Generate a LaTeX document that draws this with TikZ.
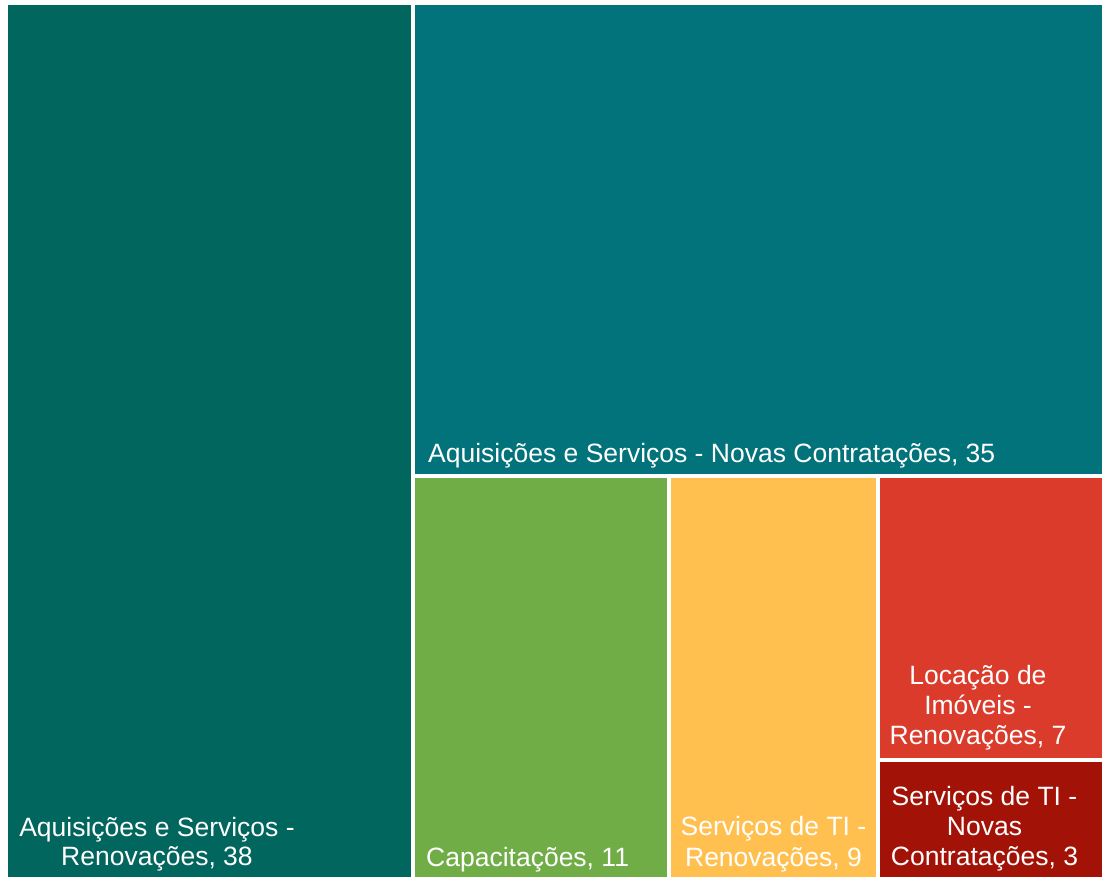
\documentclass[tikz,border=0pt]{standalone}
\usepackage{fontspec}
\setmainfont{Liberation Sans}
\definecolor{tealA}{RGB}{0,102,94}
\definecolor{tealB}{RGB}{2,115,122}
\definecolor{greenC}{RGB}{112,173,71}
\definecolor{yellowD}{RGB}{255,192,80}
\definecolor{redE}{RGB}{218,59,43}
\definecolor{redF}{RGB}{163,18,6}
\tikzset{
  lbl/.style={text=white, inner sep=0pt, font=\fontsize{26.5}{30}\selectfont},
}
\newcommand{\lines}[2]{{\renewcommand{\arraystretch}{1}\fontsize{26.5}{#1}\selectfont\begin{tabular}[b]{@{}c@{}}#2\end{tabular}}}
\begin{document}
\begin{tikzpicture}[x=1pt,y=-1pt]
\useasboundingbox (0,0) rectangle (1102,877);
\fill[white] (0,0) rectangle (1102,877);
\fill[tealA] (8,5) rectangle (411,877);
\fill[tealB] (415,5) rectangle (1102,474);
\fill[greenC] (415,478) rectangle (667,877);
\fill[yellowD] (671,478) rectangle (876,877);
\fill[redE] (880,478) rectangle (1102,758);
\fill[redF] (880,762) rectangle (1102,877);
\node[lbl, anchor=base] (la) at (157,865) {\lines{29}{Aquisições e Serviços -\\Renovações, 38}};
\node[lbl, anchor=base west] (lb) at (428,462) {Aquisições e Serviços - Novas Contratações, 35};
\node[lbl, anchor=base west] (lc) at (426,866) {Capacitações, 11};
\node[lbl, anchor=base] (ld) at (773.5,866) {\lines{31}{Serviços de TI -\\Renovações, 9}};
\node[lbl, anchor=base] (le) at (978,744) {\lines{30}{Locação de\\Imóveis -\\Renovações, 7}};
\node[lbl, anchor=base] (lf) at (984.5,865) {\lines{30}{Serviços de TI -\\Novas\\Contratações, 3}};
\end{tikzpicture}
\end{document}
